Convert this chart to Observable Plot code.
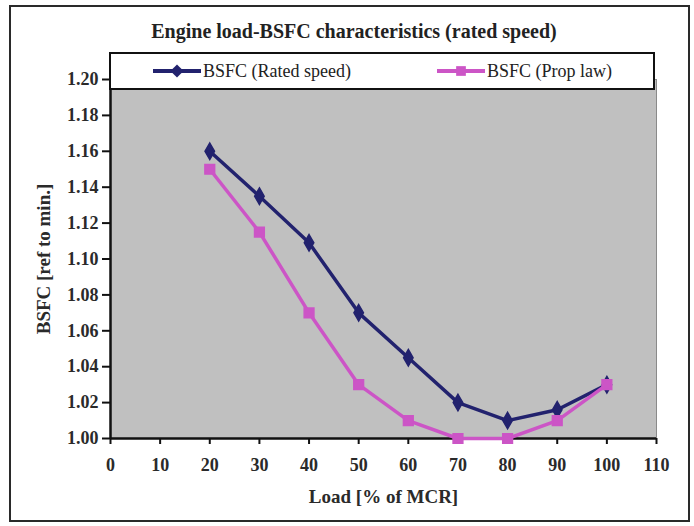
<!DOCTYPE html>
<html>
<head>
<meta charset="utf-8">
<script src="https://cdn.jsdelivr.net/npm/d3@7"></script>
<script src="https://cdn.jsdelivr.net/npm/@observablehq/plot@0.6"></script>
<style>
  body { margin: 0; background: #fff; }
  #wrap { position: relative; width: 694px; height: 526px; overflow: hidden; font-family: "Liberation Serif", "Times New Roman", serif; }
  #border { position: absolute; left: 9px; top: 5px; width: 681px; height: 517px; border: 2px solid #2a2a2a; box-sizing: border-box; pointer-events: none; }
  #title { position: relative; height: 50px; box-sizing: border-box; padding-top: 20px; padding-left: 14px; text-align: center; font-weight: bold; font-size: 20px; line-height: 22px; color: #222; }
  #legend { position: absolute; left: 109px; top: 52px; width: 546px; height: 38px; box-sizing: border-box; background: #fff; border: 2px solid #111; font-size: 18px; color: #222; z-index: 2; }
  .item { position: absolute; top: 0; height: 34px; display: flex; align-items: center; }
  .item svg { display: block; }
  .item span { margin-left: 2px; }
  #chart { position: relative; }
</style>
</head>
<body>
<div id="wrap">
  <div id="title">Engine load-BSFC characteristics (rated speed)</div>
  <div id="chart"></div>
  <div id="legend"></div>
  <div id="border"></div>
</div>
<script>
// ---- data ----
const loads = [20, 30, 40, 50, 60, 70, 80, 90, 100];
const bsfcRated = [1.160, 1.135, 1.109, 1.070, 1.045, 1.020, 1.010, 1.016, 1.030];
const bsfcProp  = [1.150, 1.115, 1.070, 1.030, 1.010, 1.000, 1.000, 1.010, 1.030];
const seriesNames = ["BSFC (Rated speed)", "BSFC (Prop law)"];
const xTicks = [0, 10, 20, 30, 40, 50, 60, 70, 80, 90, 100, 110];
const yTicks = [1.00, 1.02, 1.04, 1.06, 1.08, 1.10, 1.12, 1.14, 1.16, 1.18, 1.20];
const xTitle = "Load [% of MCR]";
const yTitle = "BSFC [ref to min.]";

const navy = "#22226e";
const magenta = "#cc55c6";
const serif = "'Liberation Serif', 'Times New Roman', serif";

const rated = loads.map((x, i) => ({x, y: bsfcRated[i]}));
const prop = loads.map((x, i) => ({x, y: bsfcProp[i]}));
const fmt = d3.format(".2f");

const chart = Plot.plot({
  width: 694,
  height: 476,
  marginTop: 29,
  marginBottom: 88,
  marginLeft: 110,
  marginRight: 38,
  style: { fontFamily: serif, fontSize: "18px", fontWeight: "bold", color: "#2a2a2a", background: "transparent" },
  x: { domain: [0, 110] },
  y: { domain: [1.0, 1.2] },
  marks: [
    Plot.frame({ fill: "#c0c0c0", stroke: "#8a8a8a" }),
    Plot.axisX({ ticks: xTicks, tickSize: 6, tickFormat: () => "", label: null, stroke: "#111", strokeWidth: 2 }),
    Plot.axisY({ ticks: yTicks, tickSize: 8, tickFormat: () => "", label: null, stroke: "#111", strokeWidth: 2 }),
    Plot.text(xTicks, { x: d => d, frameAnchor: "bottom", dy: 32, text: d => String(d), fontFamily: serif, fontSize: 18, fontWeight: "bold", fill: "#2a2a2a" }),
    Plot.text(yTicks, { y: d => d, frameAnchor: "left", textAnchor: "end", dx: -12, text: d => fmt(d), fontFamily: serif, fontSize: 18, fontWeight: "bold", fill: "#2a2a2a" }),
    Plot.ruleY([1.0], { stroke: "#111", strokeWidth: 2.5 }),
    Plot.ruleX([0], { stroke: "#111", strokeWidth: 2.5 }),
    Plot.text([xTitle], { frameAnchor: "bottom", dy: 64, fontFamily: serif, fontSize: 19, fontWeight: "bold", fill: "#2a2a2a" }),
    Plot.text([yTitle], { frameAnchor: "left", textAnchor: "middle", dx: -67, rotate: -90, fontFamily: serif, fontSize: 19, fontWeight: "bold", fill: "#2a2a2a" }),
    Plot.line(rated, { x: "x", y: "y", stroke: navy, strokeWidth: 3.5 }),
    Plot.dot(rated, { x: "x", y: "y", symbol: "diamond", r: 5, fill: navy, stroke: navy }),
    Plot.line(prop, { x: "x", y: "y", stroke: magenta, strokeWidth: 3.5 }),
    Plot.dot(prop, { x: "x", y: "y", symbol: "square", r: 5.5, fill: magenta, stroke: magenta })
  ]
});
document.getElementById("chart").appendChild(chart);

// legend
function swatch(color, symbol) {
  const ns = "http://www.w3.org/2000/svg";
  const s = document.createElementNS(ns, "svg");
  s.setAttribute("width", 48); s.setAttribute("height", 16);
  const l = document.createElementNS(ns, "line");
  l.setAttribute("x1", 0); l.setAttribute("x2", 48); l.setAttribute("y1", 8); l.setAttribute("y2", 8);
  l.setAttribute("stroke", color); l.setAttribute("stroke-width", 4);
  s.appendChild(l);
  const p = document.createElementNS(ns, "path");
  const sym = d3.symbol(symbol === "diamond" ? d3.symbolDiamond2 : d3.symbolSquare2, symbol === "diamond" ? 110 : 120);
  p.setAttribute("d", sym());
  p.setAttribute("transform", "translate(24,8)");
  p.setAttribute("fill", color);
  s.appendChild(p);
  return s;
}
const legend = document.getElementById("legend");
[[seriesNames[0], navy, "diamond", 42], [seriesNames[1], magenta, "square", 326]].forEach(([name, color, sym, left]) => {
  const it = document.createElement("div");
  it.className = "item";
  it.style.left = left + "px";
  it.appendChild(swatch(color, sym));
  const t = document.createElement("span");
  t.textContent = name;
  it.appendChild(t);
  legend.appendChild(it);
});
</script>
</body>
</html>
